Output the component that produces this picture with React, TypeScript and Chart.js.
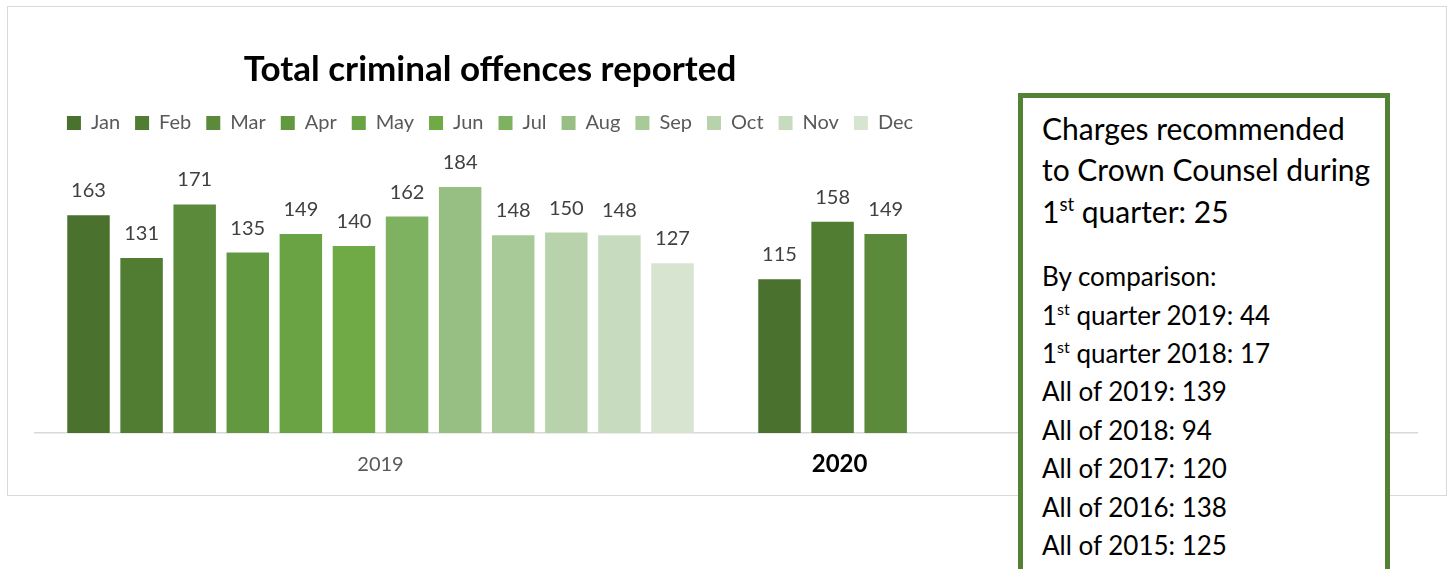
import React, { useEffect, useRef } from 'react';
import { Chart, registerables } from 'chart.js';

Chart.register(...registerables);

// ---------- data ----------
const categories = ['2019', '2020'];
const months = ['Jan', 'Feb', 'Mar', 'Apr', 'May', 'Jun', 'Jul', 'Aug', 'Sep', 'Oct', 'Nov', 'Dec'];
const offences2019 = [163, 131, 171, 135, 149, 140, 162, 184, 148, 150, 148, 127];
const offences2020 = [115, 158, 149, null, null, null, null, null, null, null, null, null];
const monthColors = [
  '#4a712e', '#517d33', '#5a8a3a', '#629840', '#69a344', '#70aa47',
  '#7fb260', '#98bf83', '#a8ca99', '#b8d3ac', '#c7dbbf', '#d7e4d0',
];
const chartTitle = 'Total criminal offences reported';

const noteLines = ['Charges recommended', 'to Crown Counsel during', '1st quarter'];
const noteValue = 25;
const comparisonHeading = 'By comparison:';
const comparisonLabels = [
  '1st quarter 2019', '1st quarter 2018', 'All of 2019', 'All of 2018',
  'All of 2017', 'All of 2016', 'All of 2015',
];
const comparisonValues = [44, 17, 139, 94, 120, 138, 125];

const FONT = 'Lato, "Noto Sans", sans-serif';

// ---------- plugins ----------
const headerCenterPlugin = {
  id: 'headerCenter',
  afterLayout(chart: any) {
    const cx = 490;
    const boxes = [chart.titleBlock, chart.legend];
    for (const b of boxes) {
      if (!b) continue;
      b.left = 0;
      b.right = cx * 2;
      b.width = cx * 2;
    }
  },
};

const valueLabelPlugin = {
  id: 'valueLabels',
  afterDatasetsDraw(chart: any) {
    const { ctx } = chart;
    ctx.save();
    ctx.font = `20px ${FONT}`;
    ctx.fillStyle = '#404040';
    ctx.textAlign = 'center';
    ctx.textBaseline = 'alphabetic';
    chart.data.datasets.forEach((ds: any, i: number) => {
      const meta = chart.getDatasetMeta(i);
      if (meta.hidden) return;
      meta.data.forEach((bar: any, j: number) => {
        const v = ds.data[j];
        if (v == null) return;
        ctx.fillText(String(v), bar.x, bar.y - 18);
      });
    });

    // bold label for the partial year, centred under its bars
    const xs: number[] = [];
    chart.data.datasets.forEach((ds: any, i: number) => {
      if (ds.data[1] != null) xs.push(chart.getDatasetMeta(i).data[1].x);
    });
    if (xs.length) {
      const mx = xs.reduce((a, b) => a + b, 0) / xs.length;
      ctx.font = `bold 24px ${FONT}`;
      ctx.fillStyle = '#000000';
      ctx.fillText(categories[1], mx + 7, chart.chartArea.bottom + 39);
    }
    ctx.restore();
  },
};

function Ordinal({ text }: { text: string }) {
  if (text.startsWith('1st')) {
    return (
      <>
        1
        <span style={{ fontSize: '0.62em', position: 'relative', top: '-0.62em', lineHeight: 0 }}>st</span>
        {text.slice(3)}
      </>
    );
  }
  return <>{text}</>;
}

export default function App() {
  const canvasRef = useRef<HTMLCanvasElement | null>(null);

  useEffect(() => {
    if (!canvasRef.current) return;
    const datasets = months.map((m, i) => ({
      label: m,
      data: [offences2019[i], offences2020[i]],
      backgroundColor: monthColors[i],
      borderWidth: 0,
      barPercentage: 0.8,
      categoryPercentage: 0.922,
    }));
    const chart = new Chart(canvasRef.current, {
      type: 'bar',
      data: { labels: categories, datasets },
      options: {
        animation: false,
        responsive: true,
        maintainAspectRatio: false,
        layout: { padding: { left: 35, right: 33, top: 0, bottom: 72 } },
        plugins: {
          title: {
            display: true,
            text: chartTitle,
            color: '#000000',
            font: { family: FONT, size: 35, weight: 'bold' },
            padding: { top: 49, bottom: 7 },
          },
          legend: {
            display: true,
            position: 'top',
            labels: {
              boxWidth: 14,
              boxHeight: 14,
              padding: 15,
              color: '#595959',
              font: { family: FONT, size: 20 },
            },
          },
          tooltip: { enabled: false },
        },
        scales: {
          x: {
            type: 'category',
            grid: { display: false, drawTicks: false },
            border: { color: '#d9d9d9', width: 1.5 },
            ticks: {
              padding: 20,
              color: '#595959',
              font: { family: FONT, size: 20 },
              callback: (_v: any, idx: number) => (idx === 1 ? '' : categories[idx]),
            },
          },
          y: { display: false, min: 0, max: 217 },
        },
      },
      plugins: [headerCenterPlugin, valueLabelPlugin],
    } as any);
    return () => chart.destroy();
  }, []);

  return (
    <div style={{ position: 'fixed', left: 0, top: 0, width: 1450, height: 569, background: '#ffffff', overflow: 'hidden' }}>
      <div
        style={{
          position: 'absolute', left: 7, top: 6, width: 1440, height: 490,
          boxSizing: 'border-box', border: '1.5px solid #d9d9d9',
        }}
      />
      <div style={{ position: 'absolute', left: 0, top: 0, width: 1450, height: 569 }}>
        <canvas ref={canvasRef} />
      </div>
      <div
        style={{
          position: 'absolute', left: 1018, top: 93, width: 372, height: 482,
          boxSizing: 'border-box', border: '5px solid #548235', background: '#ffffff',
          fontFamily: FONT, color: '#000000', padding: '10px 0 0 19px',
        }}
      >
        <div style={{ fontSize: 30, lineHeight: '41.4px', whiteSpace: 'nowrap' }}>
          <div>{noteLines[0]}</div>
          <div>{noteLines[1]}</div>
          <div>
            <Ordinal text={noteLines[2]} />: {noteValue}
          </div>
        </div>
        <div style={{ fontSize: 26, lineHeight: '38.4px', marginTop: 25, whiteSpace: 'nowrap' }}>
          <div>{comparisonHeading}</div>
          {comparisonLabels.map((l, i) => (
            <div key={l}>
              <Ordinal text={l} />: {comparisonValues[i]}
            </div>
          ))}
        </div>
      </div>
    </div>
  );
}
